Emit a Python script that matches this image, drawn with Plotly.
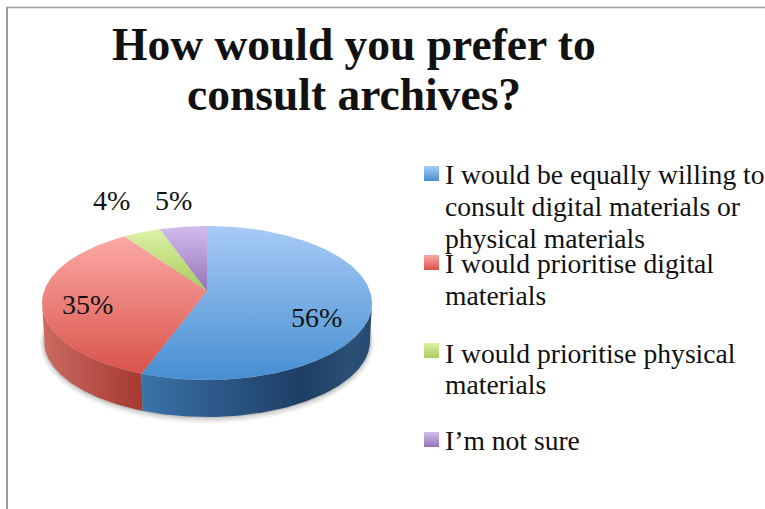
import numpy as np
import plotly.graph_objects as go

TITLE_LINES = ["How would you prefer to", "consult archives?"]
CATEGORY_LINES = [
    ["I would be equally willing to", "consult digital materials or", "physical materials"],
    ["I would prioritise digital", "materials"],
    ["I would prioritise physical", "materials"],
    ["I’m not sure"],
]
VALUES = [56, 35, 4, 5]
LABEL_POS = [(316, 317), (87, 304), (111, 200), (173, 200)]

TOP_COLORS = [("#a8cbf6", "#468fd2"), ("#fca9a5", "#d9534a"), ("#dcf2a6", "#a9cc5c"), ("#d2bdec", "#9473b8")]
SIDE_COLORS = [
    [[0, "#3a74aa"], [0.3, "#2d5a8a"], [0.7, "#1e3e63"], [0.9, "#2b4f75"], [1, "#264a70"]],
    [[0, "#cb6b60"], [0.5, "#b9514a"], [1, "#a43a30"]],
]

FONT = "Liberation Serif"
INK = "#111111"

# Disc geometry in the page's pixel space
CX, CY, RX, RY = 207, 303, 165, 77
APEX_Y = 291
BOTTOM_CX, BOTTOM_CY, BOTTOM_RX, BOTTOM_RY = 207, 341, 163, 76
TILT = 0.08


def rim(theta, cx=CX, cy=CY, rx=RX, ry=RY):
    """Project a clockwise-from-top angle onto a foreshortened rim."""
    c, s = np.cos(theta), np.sin(theta)
    d = 1 + TILT * c
    return cx + rx * s * np.sqrt(1 - TILT**2) / d, cy - ry * (c + TILT) / d


def ramp(pair):
    # The y axis runs downwards, so the light shade sits at the high end of the scale
    return [[0, pair[1]], [1, pair[0]]]


fig = go.Figure()


def polygon(x, y, gradient=None, color=None, kind="vertical"):
    args = dict(x=x, y=y, mode="lines", line=dict(width=0), fill="toself",
                hoverinfo="skip", showlegend=False)
    if gradient is not None:
        args["fillgradient"] = dict(type=kind, colorscale=gradient)
    else:
        args["fillcolor"] = color
    fig.add_trace(go.Scatter(**args))


# Soft shadow under the disc
full = np.linspace(0, 2 * np.pi, 240)
for grow, alpha in [(4, 0.05), (2.5, 0.08), (1, 0.12)]:
    sx, sy = rim(full, BOTTOM_CX, BOTTOM_CY + grow * 0.6, BOTTOM_RX + grow, BOTTOM_RY + grow)
    polygon(sx, sy, color=f"rgba(0,0,0,{alpha})")

# Slice boundaries, running clockwise from twelve o'clock
fractions = np.cumsum([0] + VALUES) / sum(VALUES)
angles = fractions * 2 * np.pi

# Rim walls for the slices that face the viewer
right_edge = np.arccos(-TILT)
left_edge = 2 * np.pi - right_edge
wall_spans = [(right_edge, angles[1]), (angles[1], left_edge)]
for (a, b), scale in zip(wall_spans, SIDE_COLORS):
    t = np.linspace(a, b, 120)
    tx, ty = rim(t)
    bx, by = rim(t, BOTTOM_CX, BOTTOM_CY, BOTTOM_RX, BOTTOM_RY)
    x = np.concatenate([tx, bx[::-1]])
    y = np.concatenate([ty, by[::-1]])
    polygon(x, y, gradient=scale, kind="horizontal")

# Top faces of the slices
for i, pair in enumerate(TOP_COLORS):
    t = np.linspace(angles[i], angles[i + 1], 160)
    tx, ty = rim(t)
    x = np.concatenate([[CX], tx, [CX]])
    y = np.concatenate([[APEX_Y], ty, [APEX_Y]])
    polygon(x, y, gradient=ramp(pair))

# Legend swatches
SWATCH_TOPS = [166, 255, 343, 432]
for top, pair in zip(SWATCH_TOPS, TOP_COLORS):
    polygon([424, 439, 439, 424, 424], [top, top, top + 15, top + 15, top], gradient=ramp(pair))

annotations = []


def put(text, x, baseline, size, anchor="left", bold=False):
    annotations.append(dict(
        text=f"<b>{text}</b>" if bold else text, x=x, y=baseline + 0.27 * size,
        xref="x", yref="y", xanchor=anchor, yanchor="bottom", showarrow=False,
        font=dict(family=FONT, size=size, color=INK), borderpad=0,
    ))


for line, base in zip(TITLE_LINES, [59, 109]):
    put(line, 354, base, 45.5, anchor="center", bold=True)

LEGEND_BASELINES = [[184, 216, 248], [273, 305], [363, 394], [450]]
for lines, bases in zip(CATEGORY_LINES, LEGEND_BASELINES):
    for line, base in zip(lines, bases):
        put(line, 444, base, 27.6)

for v, (lx, ly) in zip(VALUES, LABEL_POS):
    put(f"{v}%", lx, ly + 9, 28, anchor="center")

fig.update_layout(
    width=765, height=509, autosize=False,
    margin=dict(l=0, r=0, t=0, b=0),
    paper_bgcolor="white", plot_bgcolor="white",
    xaxis=dict(range=[0, 765], visible=False, fixedrange=True),
    yaxis=dict(range=[509, 0], visible=False, fixedrange=True),
    annotations=annotations,
    # Chart frame: only the left and top edges fall inside the crop
    shapes=[
        dict(type="line", x0=7, x1=7, y0=7.5, y1=509, line=dict(color="#9c9c9c", width=2)),
        dict(type="line", x0=6, x1=765, y0=7.5, y1=7.5, line=dict(color="#9c9c9c", width=1.5)),
    ],
)

fig.write_html("out.html")
